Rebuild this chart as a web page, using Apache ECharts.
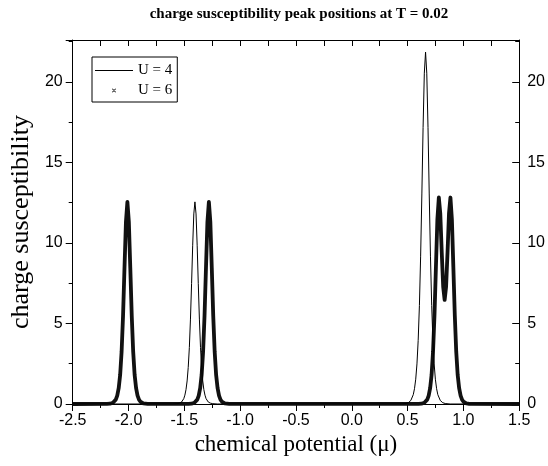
<!DOCTYPE html>
<html><head><meta charset="utf-8">
<script src="https://cdn.jsdelivr.net/npm/echarts@6/dist/echarts.min.js"></script>
<style>html,body{margin:0;padding:0;background:#fff}#c{width:548px;height:466px}</style>
</head><body><div id="c"></div>
<script>
const titleText = 'charge susceptibility peak positions at T = 0.02';
const xName = 'chemical potential (\u03bc)';
const yName = 'charge susceptibility';
const seriesNames = ['U = 4', 'U = 6'];
const xRange = [-2.5, 1.5];
const xStep = 0.5;
const yRange = [0, 22.6];
const yStep = 5;

const u4Mu = [-2.5,
  -1.605, -1.565, -1.545, -1.525, -1.505, -1.495, -1.485, -1.475, -1.465, -1.455, -1.445, -1.435, -1.425, -1.415, -1.405,
  -1.395, -1.385, -1.375, -1.365, -1.355, -1.345, -1.335, -1.325, -1.315, -1.305, -1.285, -1.265, -1.245, -1.205,
  0.441, 0.485, 0.507, 0.529, 0.551, 0.562, 0.573, 0.584, 0.595, 0.606, 0.617, 0.628, 0.639, 0.650, 0.661,
  0.672, 0.683, 0.694, 0.705, 0.716, 0.727, 0.738, 0.749, 0.760, 0.771, 0.793, 0.815, 0.837, 0.881,
  1.5];
const u4Chi = [0,
  0, 0.02, 0.05, 0.12, 0.33, 0.55, 0.89, 1.43, 2.27, 3.51, 5.27, 7.49, 9.86, 11.80, 12.55,
  11.80, 9.86, 7.49, 5.27, 3.51, 2.27, 1.43, 0.89, 0.55, 0.33, 0.12, 0.05, 0.02, 0,
  0, 0.03, 0.08, 0.22, 0.58, 0.95, 1.54, 2.49, 3.95, 6.12, 9.18, 13.04, 17.17, 20.54, 21.85,
  20.54, 17.17, 13.04, 9.18, 6.12, 3.95, 2.49, 1.54, 0.95, 0.58, 0.22, 0.08, 0.03, 0,
  0];

const u6Mu = [-2.5,
  -2.192, -2.166, -2.153, -2.140, -2.127, -2.114, -2.101, -2.088, -2.075, -2.062, -2.049, -2.036, -2.023, -2.010,
  -1.997, -1.984, -1.971, -1.958, -1.945, -1.932, -1.919, -1.906, -1.893, -1.880, -1.867, -1.854, -1.828,
  -1.462, -1.436, -1.423, -1.410, -1.397, -1.384, -1.371, -1.358, -1.345, -1.332, -1.319, -1.306, -1.293, -1.280,
  -1.267, -1.254, -1.241, -1.228, -1.215, -1.202, -1.189, -1.176, -1.163, -1.150, -1.137, -1.124, -1.098,
  0.598, 0.611, 0.624, 0.637, 0.650, 0.663, 0.676, 0.689, 0.702, 0.715, 0.728, 0.741, 0.754, 0.767, 0.780,
  0.793, 0.806, 0.819, 0.832, 0.845, 0.858, 0.871, 0.884, 0.897, 0.910, 0.923, 0.936, 0.949, 0.962, 0.975,
  0.988, 1.001, 1.014, 1.027, 1.040, 1.053, 1.066,
  1.5];
const u6Chi = [0,
  0.01, 0.02, 0.04, 0.08, 0.14, 0.27, 0.52, 0.98, 1.80, 3.23, 5.47, 8.45, 11.31, 12.55,
  11.31, 8.45, 5.47, 3.23, 1.80, 0.98, 0.52, 0.27, 0.14, 0.08, 0.04, 0.02, 0.01,
  0.01, 0.02, 0.04, 0.08, 0.14, 0.27, 0.52, 0.98, 1.80, 3.23, 5.47, 8.45, 11.31, 12.55,
  11.31, 8.45, 5.47, 3.23, 1.80, 0.98, 0.52, 0.27, 0.14, 0.08, 0.04, 0.02, 0.01,
  0.01, 0.01, 0.02, 0.04, 0.08, 0.14, 0.27, 0.52, 0.98, 1.80, 3.23, 5.51, 8.52, 11.46, 12.82,
  11.83, 9.42, 7.28, 6.46, 7.28, 9.42, 11.83, 12.82, 11.46, 8.52, 5.51, 3.23, 1.80, 0.98, 0.52,
  0.27, 0.14, 0.08, 0.04, 0.02, 0.01, 0.01,
  0];

const pairs = (xs, ys) => xs.map((x, i) => [x, ys[i]]);
const serif = 'Liberation Serif';
const sans = 'Liberation Sans';
const black = '#000';

const chart = echarts.init(document.getElementById('c'), null, {renderer: 'canvas'});

function yAxisCfg(pos) {
  const left = pos === 'left';
  return {
    type: 'value', position: pos, min: yRange[0], max: yRange[1], interval: yStep,
    name: left ? yName : '', nameLocation: 'middle', nameGap: 34,
    nameTextStyle: {fontFamily: serif, fontSize: 26, color: black},
    axisLine: {show: true, onZero: false, lineStyle: {color: black, width: 1}},
    axisTick: {show: true, inside: !left, length: 7, lineStyle: {color: black, width: 1}},
    minorTick: {show: true, splitNumber: 2, length: 4, lineStyle: {color: black, width: 1}},
    axisLabel: {show: true, showMaxLabel: false, color: black, fontFamily: sans, fontSize: 16, margin: left ? 10 : 8,
      formatter: v => (Math.abs(v % yStep) < 1e-9 ? String(v) : '')},
    splitLine: {show: false}
  };
}

chart.setOption({
  animation: false,
  backgroundColor: '#fff',
  graphic: [{
    type: 'text', x: 299, y: 14,
    style: {text: titleText, fontFamily: serif, fontWeight: 'bold', fontSize: 15, fill: black, align: 'center', verticalAlign: 'middle'}
  }],
  grid: {left: 71.5, right: 28.5, top: 40, bottom: 62, containLabel: false},
  legend: {
    orient: 'vertical', left: 92, top: 57,
    padding: [6, 5, 4, 3], itemGap: 5, itemWidth: 38, itemHeight: 14,
    borderColor: black, borderWidth: 1, backgroundColor: '#fff',
    textStyle: {fontFamily: serif, fontSize: 15, color: black},
    data: [
      {name: seriesNames[0], icon: 'path://M0,6.5h38v1h-38z', itemStyle: {color: black}},
      {name: seriesNames[1], icon: 'path://M0,0M38,14M17,5.6L17.6,5L21,8.4L20.4,9ZM21,5.6L20.4,5L17,8.4L17.6,9Z', itemStyle: {color: black}}
    ]
  },
  xAxis: [{
    type: 'value', position: 'bottom', min: xRange[0], max: xRange[1], interval: xStep,
    name: xName, nameLocation: 'middle', nameGap: 27,
    nameTextStyle: {fontFamily: serif, fontSize: 23, color: black},
    axisLine: {onZero: false, lineStyle: {color: black, width: 1}},
    axisTick: {inside: false, length: 7, lineStyle: {color: black, width: 1}},
    minorTick: {show: true, splitNumber: 2, length: 4, lineStyle: {color: black, width: 1}},
    axisLabel: {color: black, fontFamily: sans, fontSize: 16, margin: 9, formatter: v => v.toFixed(1)},
    splitLine: {show: false}
  }, {
    type: 'value', position: 'top', min: xRange[0], max: xRange[1], interval: xStep / 2,
    axisLine: {onZero: false, lineStyle: {color: black, width: 1}},
    axisTick: {inside: true, length: 6, lineStyle: {color: black, width: 1}},
    axisLabel: {show: false},
    splitLine: {show: false}
  }],
  yAxis: [yAxisCfg('left'), yAxisCfg('right')],
  series: [{
    name: seriesNames[0], type: 'line', xAxisIndex: 0, yAxisIndex: 0,
    data: pairs(u4Mu, u4Chi), symbol: 'none', smooth: false,
    lineStyle: {color: black, width: 1}, itemStyle: {color: black}, z: 3
  }, {
    name: seriesNames[1], type: 'line', xAxisIndex: 0, yAxisIndex: 0,
    data: pairs(u6Mu, u6Chi), symbol: 'none', smooth: false,
    lineStyle: {color: '#111', width: 3.8, join: 'round'}, itemStyle: {color: black}, z: 2
  }]
});
</script></body></html>
